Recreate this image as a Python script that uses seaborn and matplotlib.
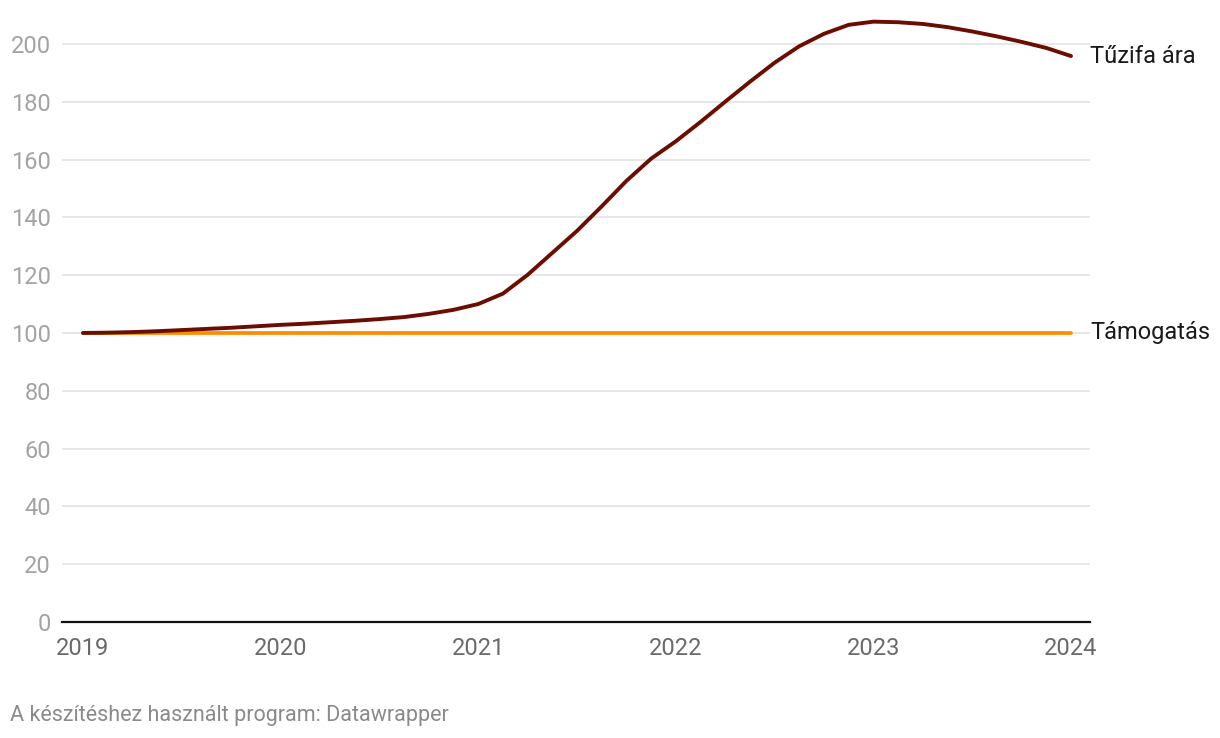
import numpy as np
import pandas as pd
import matplotlib.pyplot as plt
import seaborn as sns

# ── adatok (nyolcadévente) ────────────────────────────────────────────────────
evek = [2019.0, 2019.125, 2019.25, 2019.375, 2019.5, 2019.625, 2019.75, 2019.875,
        2020.0, 2020.125, 2020.25, 2020.375, 2020.5, 2020.625, 2020.75, 2020.875,
        2021.0, 2021.125, 2021.25, 2021.375, 2021.5, 2021.625, 2021.75, 2021.875,
        2022.0, 2022.125, 2022.25, 2022.375, 2022.5, 2022.625, 2022.75, 2022.875,
        2023.0, 2023.125, 2023.25, 2023.375, 2023.5, 2023.625, 2023.75, 2023.875,
        2024.0]
tuzifa = [100.0, 100.1, 100.3, 100.6, 101.0, 101.4, 101.8, 102.3,
          102.8, 103.2, 103.7, 104.2, 104.8, 105.5, 106.6, 108.0,
          110.0, 113.6, 120.1, 127.7, 135.3, 143.8, 152.6, 160.3,
          166.3, 173.0, 180.0, 186.9, 193.5, 199.2, 203.5, 206.6,
          207.7, 207.5, 206.9, 205.8, 204.3, 202.6, 200.7, 198.6,
          195.8]
tamogatas = [100.0] * len(evek)

x_tickek = [2019, 2020, 2021, 2022, 2023, 2024]
y_tickek = [0, 20, 40, 60, 80, 100, 120, 140, 160, 180, 200]

df = pd.DataFrame({'ev': evek, 'Tűzifa ára': tuzifa, 'Támogatás': tamogatas})

# ── stílus ────────────────────────────────────────────────────────────────────
sns.set_theme(style='white')
plt.rcParams['font.family'] = ['Roboto', 'DejaVu Sans']

fig = plt.figure(figsize=(12.2, 7.38), dpi=100)
ax = fig.add_axes([62 / 1220, 116 / 738, 1028 / 1220, 607 / 738])

sns.lineplot(data=df, x='ev', y='Támogatás', ax=ax, color='#ff8c00',
             linewidth=2.7, solid_capstyle='round', clip_on=False)
sns.lineplot(data=df, x='ev', y='Tűzifa ára', ax=ax, color='#6b0d00',
             linewidth=2.8, solid_capstyle='round', solid_joinstyle='round',
             clip_on=False)

ax.set_xlim(2018.894, 2024.096)
ax.set_ylim(0, 210)
ax.set_xticks(x_tickek)
ax.set_yticks(y_tickek)
ax.set_xticklabels([str(t) for t in x_tickek])
ax.set_xlabel('')
ax.set_ylabel('')

ax.grid(axis='y', color='#e3e3e3', linewidth=1.2)
ax.grid(axis='x', visible=False)
ax.set_axisbelow(True)
for s in ['top', 'right', 'left']:
    ax.spines[s].set_visible(False)
ax.spines['bottom'].set_color('#111111')
ax.spines['bottom'].set_linewidth(1.6)
ax.spines['bottom'].set_zorder(5)

ax.tick_params(axis='x', length=0, pad=11, labelsize=17, labelcolor='#6a6a6a')
ax.tick_params(axis='y', length=0, pad=8, labelsize=17, labelcolor='#a3a3a3')

# sor végi címkék
for nev, ertekek in [('Tűzifa ára', tuzifa), ('Támogatás', tamogatas)]:
    ax.annotate(nev, xy=(evek[-1], ertekek[-1]), xytext=(14, 0),
                textcoords='offset points', va='center', ha='left',
                fontsize=17, color='#1a1a1a', annotation_clip=False)

fig.text(10 / 1220, 1 - 716 / 738, 'A készítéshez használt program: Datawrapper',
         fontsize=15.5, color='#8a8a8a', va='center', ha='left')

fig.savefig('out.png', dpi=100)
